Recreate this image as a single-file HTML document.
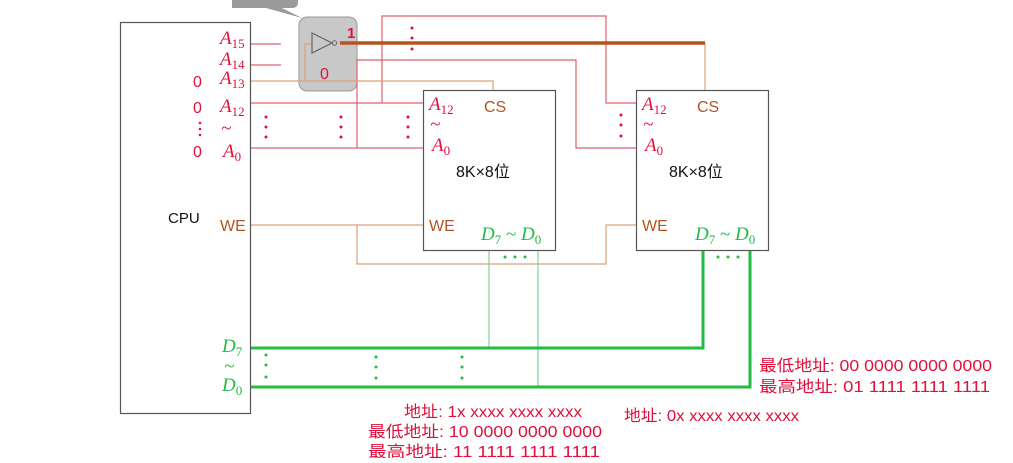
<!DOCTYPE html>
<html><head><meta charset="utf-8"><style>
body{margin:0;background:#fff;}
svg text{font-family:"Liberation Sans","Noto Sans CJK SC",sans-serif;}
.it{font-family:"Liberation Serif",serif;font-style:italic;}
</style></head><body>
<svg width="1013" height="458" viewBox="0 0 1013 458" xmlns="http://www.w3.org/2000/svg">
<rect x="0" y="0" width="1013" height="458" fill="#fff"/>
<path d="M232,-8 H296 Q298,-8 298,0 V2 Q298,8 292,8 H282 L302,18 L266,8 H232 Z" fill="#9a9a9a"/>
<rect x="120.5" y="22.5" width="130" height="391" fill="none" stroke="#555" stroke-width="1.2"/>
<rect x="423.5" y="90.5" width="132" height="160" fill="none" stroke="#555" stroke-width="1.2"/>
<rect x="636.5" y="90.5" width="132" height="160" fill="none" stroke="#555" stroke-width="1.2"/>
<rect x="299" y="17" width="58" height="74" rx="8" fill="#c8c8c8" stroke="#999"/>
<g stroke="#e06070" stroke-width="1.2" fill="none">
<path d="M251,44H281M251,65H281"/>
<path d="M251,103H423M251,148H423"/>
<path d="M382,103V16H606V103H636"/>
<path d="M357,148V60H576V148H636"/>
</g>
<g stroke="#d9a27a" stroke-width="1.2" fill="none">
<path d="M251,81H493V90"/>
<path d="M305,81V44H312"/>
<path d="M251,225H423M357,225V264H606V225H636"/>
<path d="M705,43V90"/>
</g>
<path d="M340,43H705" stroke="#b5541f" stroke-width="3.5"/>
<path d="M312,33L332,43L312,53Z" fill="none" stroke="#666" stroke-width="1.2"/>
<circle cx="334.5" cy="43" r="2.2" fill="none" stroke="#666"/>
<g stroke="#7fd39a" stroke-width="1.2" fill="none">
<path d="M489,251V348M538,251V387"/>
</g>
<g stroke="#22bb44" stroke-width="3" fill="none">
<path d="M251,348H703V251"/>
<path d="M251,387H750V251"/>
</g>
<g fill="#e0103a">
<circle cx="266" cy="117" r="1.5"/><circle cx="266" cy="127" r="1.5"/><circle cx="266" cy="137" r="1.5"/>
<circle cx="341" cy="117" r="1.5"/><circle cx="341" cy="127" r="1.5"/><circle cx="341" cy="137" r="1.5"/>
<circle cx="408" cy="117" r="1.5"/><circle cx="408" cy="127" r="1.5"/><circle cx="408" cy="137" r="1.5"/>
<circle cx="621" cy="115" r="1.5"/><circle cx="621" cy="125" r="1.5"/><circle cx="621" cy="136" r="1.5"/>
<circle cx="412" cy="28" r="1.5"/><circle cx="412" cy="38" r="1.5"/><circle cx="412" cy="49" r="1.5"/>
<circle cx="200" cy="123" r="1.3"/><circle cx="200" cy="129" r="1.3"/><circle cx="200" cy="135" r="1.3"/>
</g>
<g fill="#22bb44">
<circle cx="266" cy="355" r="1.5"/><circle cx="266" cy="365" r="1.5"/><circle cx="266" cy="377" r="1.5"/>
<circle cx="376" cy="357" r="1.5"/><circle cx="376" cy="367" r="1.5"/><circle cx="376" cy="378" r="1.5"/>
<circle cx="462" cy="357" r="1.5"/><circle cx="462" cy="367" r="1.5"/><circle cx="462" cy="378" r="1.5"/>
<circle cx="505" cy="257" r="1.5"/><circle cx="515" cy="257" r="1.5"/><circle cx="525" cy="257" r="1.5"/>
<circle cx="718" cy="257" r="1.5"/><circle cx="728" cy="257" r="1.5"/><circle cx="738" cy="257" r="1.5"/>
</g>
<g fill="#e0103a" font-size="19">
<text x="220" y="44" class="it">A<tspan font-size="13" dy="4" font-style="normal">15</tspan></text>
<text x="220" y="65" class="it">A<tspan font-size="13" dy="4" font-style="normal">14</tspan></text>
<text x="220" y="84" class="it">A<tspan font-size="13" dy="4" font-style="normal">13</tspan></text>
<text x="220" y="112" class="it">A<tspan font-size="13" dy="4" font-style="normal">12</tspan></text>
<text x="221" y="134" class="it">~</text>
<text x="223" y="157" class="it">A<tspan font-size="13" dy="4" font-style="normal">0</tspan></text>
<text x="193" y="87" font-size="16">0</text>
<text x="193" y="113" font-size="16">0</text>
<text x="193" y="157" font-size="16">0</text>
<text x="429" y="110" class="it">A<tspan font-size="13" dy="4" font-style="normal">12</tspan></text>
<text x="430" y="130" class="it">~</text>
<text x="432" y="151" class="it">A<tspan font-size="13" dy="4" font-style="normal">0</tspan></text>
<text x="642" y="110" class="it">A<tspan font-size="13" dy="4" font-style="normal">12</tspan></text>
<text x="643" y="130" class="it">~</text>
<text x="645" y="151" class="it">A<tspan font-size="13" dy="4" font-style="normal">0</tspan></text>
<text x="347" y="38" font-size="15" font-weight="bold">1</text>
<text x="320" y="79" font-size="16">0</text>
</g>
<g fill="#b5541f" font-size="16">
<text x="220" y="231">WE</text>
<text x="429" y="231">WE</text>
<text x="642" y="231">WE</text>
<text x="484" y="112">CS</text>
<text x="697" y="112">CS</text>
</g>
<text x="168" y="223" font-size="15" fill="#111">CPU</text>
<text x="456" y="177" font-size="16" fill="#111">8K×8位</text>
<text x="669" y="177" font-size="16" fill="#111">8K×8位</text>
<g fill="#22bb44" font-size="19">
<text x="222" y="352" class="it">D<tspan font-size="13" dy="4" font-style="normal">7</tspan></text>
<text x="224" y="372" class="it">~</text>
<text x="222" y="391" class="it">D<tspan font-size="13" dy="4" font-style="normal">0</tspan></text>
<text x="481" y="240" class="it">D<tspan font-size="13" dy="4" font-style="normal">7</tspan><tspan dy="-4" font-style="normal"> ~ </tspan>D<tspan font-size="13" dy="4" font-style="normal">0</tspan></text>
<text x="695" y="240" class="it">D<tspan font-size="13" dy="4" font-style="normal">7</tspan><tspan dy="-4" font-style="normal"> ~ </tspan>D<tspan font-size="13" dy="4" font-style="normal">0</tspan></text>
</g>
<g fill="#e0103a" font-size="16">
<text x="759" y="371" textLength="233" lengthAdjust="spacingAndGlyphs">最低地址: 00 0000 0000 0000</text>
<text x="759" y="392" textLength="231" lengthAdjust="spacingAndGlyphs">最高地址: 01 1111 1111 1111</text>
<text x="404" y="417" textLength="178" lengthAdjust="spacingAndGlyphs">地址: 1x xxxx xxxx xxxx</text>
<text x="368" y="437" textLength="234" lengthAdjust="spacingAndGlyphs">最低地址: 10 0000 0000 0000</text>
<text x="368" y="457" textLength="232" lengthAdjust="spacingAndGlyphs">最高地址: 11 1111 1111 1111</text>
<text x="624" y="421" textLength="175" lengthAdjust="spacingAndGlyphs">地址: 0x xxxx xxxx xxxx</text>
</g>
</svg>
</body></html>
